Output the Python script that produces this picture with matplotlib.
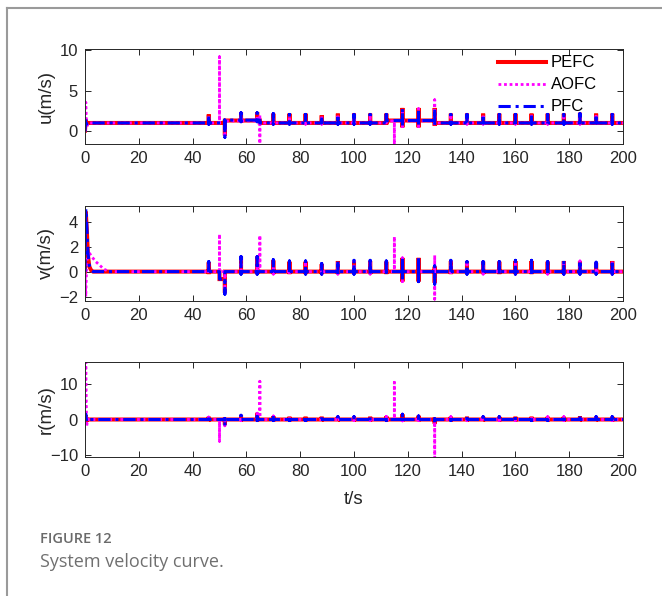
import numpy as np
import matplotlib
matplotlib.use("Agg")
import matplotlib.pyplot as plt
from matplotlib.lines import Line2D

plt.rcParams['font.family'] = ['Liberation Sans', 'DejaVu Sans']

# ---- data ----
t_end = 200
# periodic disturbance instants (s)
t_spk = [46, 52, 58, 64, 70, 76, 82, 88, 94, 100, 106, 112, 118,
         124, 130, 136, 142, 148, 154, 160, 166, 172, 178, 184, 190, 196]

# u (m/s)
u_init_t = [0, 0.3, 0.6, 1.2]
u_pfc_init = [0.0, 1.6, 0.9, 1.05]
u_pefc_init = [0.1, 1.5, 0.9, 1.05]
u_aofc_init = [0.0, 3.6, 0.5, 1.05]
u_lvl_t = [1.2, 52, 65, 112, 130]
u_pfc_lvl = [1.05, 1.4, 1.05, 1.35, 1.05]
u_pefc_lvl = [1.05, 1.35, 1.05, 1.35, 1.05]
u_aofc_lvl = [1.05, 1.3, 1.05, 1.3, 1.05]
u_pfc_hi = [2.0, 1.4, 2.3, 2.3, 2.2, 2.1, 2.1, 1.9, 2.1, 2.1, 2.1, 2.1, 2.8,
            2.8, 2.8, 2.1, 2.1, 2.1, 2.1, 2.1, 2.1, 2.1, 2.1, 2.2, 2.1, 2.1]
u_pfc_lo = [0.9, -0.7, 1.2, 1.2, 0.9, 0.9, 0.9, 0.9, 0.9, 0.9, 0.9, 0.9, 0.6,
            0.6, 0.7, 0.9, 0.9, 0.9, 0.9, 0.9, 0.9, 0.9, 0.9, 0.9, 0.9, 0.9]
u_pefc_hi = [2.1, 1.4, 2.4, 2.4, 2.2, 2.2, 2.2, 2.0, 2.2, 2.2, 2.2, 2.2, 2.9,
             2.9, 2.9, 2.2, 2.2, 2.2, 2.2, 2.2, 2.2, 2.2, 2.2, 2.3, 2.2, 2.2]
u_pefc_lo = [0.9, -0.5, 1.2, 1.2, 0.9, 0.9, 0.9, 0.9, 0.9, 0.9, 0.9, 0.9, 0.5,
             0.5, 0.7, 0.9, 0.9, 0.9, 0.9, 0.9, 0.9, 0.9, 0.9, 0.9, 0.9, 0.9]
u_aofc_t = [50, 65, 115, 130]
u_aofc_hi = [9.2, 2.0, 1.3, 3.9]
u_aofc_lo = [1.05, -1.5, -1.6, 1.05]

# v (m/s)
v_init_t = [0, 0.3, 0.7, 1.1, 1.6, 2.3, 3.0]
v_pfc_init = [0.0, 5.0, 3.5, 1.5, 0.5, 0.1, 0.0]
v_pefc_init = [0.0, 4.8, 3.2, 1.3, 0.4, 0.1, 0.0]
v_aofc_init_t = [0, 0.3, 0.6, 1.0, 1.6, 2.5, 4.0, 5.5, 7.0, 9.0]
v_aofc_init = [0.0, -2.0, 0.5, 1.6, 1.5, 1.2, 0.8, 0.5, 0.2, 0.0]
v_lvl_t = [3.0, 50, 52]
v_pfc_lvl = [0.0, -0.6, 0.0]
v_pefc_lvl = [0.0, -0.6, 0.0]
v_pfc_hi = [0.8, -0.6, 1.2, 1.2, 0.95, 0.85, 0.85, 0.65, 0.9, 0.9, 0.9, 0.85, 1.1,
            1.1, 0.45, 0.9, 0.8, 0.8, 0.8, 0.9, 0.9, 0.8, 0.9, 0.9, 0.75, 0.9]
v_pfc_lo = [-0.2, -1.8, -0.2, -0.2, -0.2, -0.2, -0.2, -0.2, -0.2, -0.2, -0.2, -0.2, -0.8,
            -0.8, -1.0, -0.2, -0.2, -0.2, -0.2, -0.2, -0.2, -0.2, -0.2, -0.2, -0.2, -0.2]
v_pefc_hi = [0.75, -0.6, 1.2, 1.2, 0.9, 0.8, 0.8, 0.6, 0.85, 0.85, 0.85, 0.8, 1.1,
             1.1, 0.4, 0.85, 0.8, 0.8, 0.8, 0.85, 0.85, 0.8, 0.85, 0.85, 0.7, 0.85]
v_pefc_lo = [-0.2, -1.7, -0.2, -0.2, -0.2, -0.2, -0.2, -0.2, -0.2, -0.2, -0.2, -0.2, -0.8,
             -0.8, -0.9, -0.2, -0.2, -0.2, -0.2, -0.2, -0.2, -0.2, -0.2, -0.2, -0.2, -0.2]
v_aofc_t = [50, 65, 115, 130]
v_aofc_hi = [3.0, 2.9, 2.8, 1.3]
v_aofc_lo = [0.0, 0.0, 0.0, -2.2]

# r
r_init_t = [0, 0.3, 0.6, 1.0]
r_pfc_init = [0.0, 1.5, -0.5, 0.0]
r_pefc_init = [0.0, 1.2, -0.4, 0.0]
r_aofc_init = [0.0, 16.3, -2.0, 0.0]
r_lvl_t = [1.0]
r_lvl = [0.0]
r_pfc_hi = [0.7, 0.3, 1.2, 1.8, 1.0, 0.7, 0.7, 0.7, 0.8, 0.8, 0.8, 0.9, 1.5,
            1.0, 0.2, 0.8, 0.8, 0.8, 0.8, 0.8, 0.8, 0.8, 0.8, 0.9, 0.8, 0.8]
r_pfc_lo = [-0.3, -1.8, -0.3, -0.3, -0.3, -0.3, -0.3, -0.3, -0.3, -0.3, -0.3, -0.3, -0.4,
            -0.3, -1.4, -0.3, -0.3, -0.3, -0.3, -0.3, -0.3, -0.3, -0.3, -0.3, -0.3, -0.3]
r_pefc_hi = [0.8, 0.3, 1.3, 1.9, 1.0, 0.8, 0.8, 0.8, 0.8, 0.8, 0.8, 1.0, 1.5,
             1.1, 0.2, 0.8, 0.8, 0.8, 0.8, 0.8, 0.8, 0.8, 0.8, 0.9, 0.8, 0.8]
r_pefc_lo = [-0.3, -1.5, -0.3, -0.3, -0.3, -0.3, -0.3, -0.3, -0.3, -0.3, -0.3, -0.3, -0.4,
             -0.3, -1.2, -0.3, -0.3, -0.3, -0.3, -0.3, -0.3, -0.3, -0.3, -0.3, -0.3, -0.3]
r_aofc_t = [50, 65, 115, 130]
r_aofc_hi = [0.0, 10.9, 10.6, 0.0]
r_aofc_lo = [-6.2, 0.0, 0.0, -11.0]


def build(init_t, init_y, lvl_t, lvl_y, ev_t, ev_hi, ev_lo):
    # polyline: initial transient, step levels, vertical spikes at events
    xs, ys = list(init_t), list(init_y)
    lvl_t = np.asarray(lvl_t, dtype=float)

    def level(t):
        return lvl_y[max(np.searchsorted(lvl_t, t, side='right') - 1, 0)]

    events = {}
    for t, h, l in zip(ev_t, ev_hi, ev_lo):
        events.setdefault(t, []).append((h, l))
    marks = sorted(set(events) | set(lvl_t[1:].tolist()))
    for m in marks:
        xs.append(m); ys.append(level(m - 1e-6))
        for h, l in events.get(m, []):
            xs += [m, m]; ys += [h, l]
        xs.append(m); ys.append(level(m))
    xs.append(t_end); ys.append(level(t_end))
    return xs, ys


panels = [
    dict(label='u(m/s)', ylim=(-1.6, 10.1), yticks=[0, 5, 10],
         pefc=build(u_init_t, u_pefc_init, u_lvl_t, u_pefc_lvl, t_spk, u_pefc_hi, u_pefc_lo),
         aofc=build(u_init_t, u_aofc_init, u_lvl_t, u_aofc_lvl,
                    t_spk + u_aofc_t, u_pfc_hi + u_aofc_hi, u_pfc_lo + u_aofc_lo),
         pfc=build(u_init_t, u_pfc_init, u_lvl_t, u_pfc_lvl, t_spk, u_pfc_hi, u_pfc_lo)),
    dict(label='v(m/s)', ylim=(-2.35, 5.25), yticks=[-2, 0, 2, 4],
         pefc=build(v_init_t, v_pefc_init, v_lvl_t, v_pefc_lvl, t_spk, v_pefc_hi, v_pefc_lo),
         aofc=build(v_aofc_init_t, v_aofc_init, [9.0], [0.0],
                    t_spk + v_aofc_t, v_pefc_hi + v_aofc_hi, v_pefc_lo + v_aofc_lo),
         pfc=build(v_init_t, v_pfc_init, v_lvl_t, v_pfc_lvl, t_spk, v_pfc_hi, v_pfc_lo)),
    dict(label='r(m/s)', ylim=(-10.7, 16.4), yticks=[-10, 0, 10],
         pefc=build(r_init_t, r_pefc_init, r_lvl_t, r_lvl, t_spk, r_pefc_hi, r_pefc_lo),
         aofc=build(r_init_t, r_aofc_init, r_lvl_t, r_lvl,
                    t_spk + r_aofc_t, r_pfc_hi + r_aofc_hi, r_pfc_lo + r_aofc_lo),
         pfc=build(r_init_t, r_pfc_init, r_lvl_t, r_lvl, t_spk, r_pfc_hi, r_pfc_lo)),
]

fig = plt.figure(figsize=(6.62, 5.96), dpi=100)
bottoms = [0.7576, 0.4950, 0.2332]
axes = []
for p, b in zip(panels, bottoms):
    ax = fig.add_axes([0.1284, b, 0.8127, 0.1594])
    l1, = ax.plot(*p['pefc'], color='#ff0000', lw=2.9, solid_joinstyle='miter')
    l2, = ax.plot(*p['aofc'], color='#ff00ff', lw=2.0, linestyle=(0, (1, 1)))
    l3, = ax.plot(*p['pfc'], color='#0000ff', lw=2.2, linestyle=(0, (4, 1.6, 1, 1.6)))
    ax.set_xlim(0, t_end)
    ax.set_ylim(*p['ylim'])
    ax.set_yticks(p['yticks'])
    ax.set_xticks(np.arange(0, 201, 20))
    ax.tick_params(direction='in', top=True, right=True, length=4, width=0.7,
                   labelsize=12, pad=5, colors='#262626')
    for s in ax.spines.values():
        s.set_linewidth(0.7)
        s.set_color('#262626')
    ax.set_ylabel(p['label'], fontsize=13.5, color='#262626')
    ax.yaxis.set_label_coords(-0.056, 0.5)
    axes.append(ax)
    if len(axes) == 1:
        handles = [l1, l2, l3]

axes[0].legend(handles, ['PEFC', 'AOFC', 'PFC'], loc='upper left',
               bbox_to_anchor=(0.764, 0.955), frameon=False, fontsize=12,
               handlelength=2.9, handletextpad=0.3, labelspacing=0.42,
               borderpad=0.1, borderaxespad=0)
axes[2].set_xlabel('t/s', fontsize=13.5, color='#262626', labelpad=9)

# page frame and caption
fig.add_artist(Line2D([0.0106, 0.0106], [0, 0.9866], color='#9a9a9a', lw=1.5))
fig.add_artist(Line2D([0.0106, 1], [0.9866, 0.9866], color='#9a9a9a', lw=1.5))
fig.text(0.0604, 1 - 539 / 596, 'FIGURE 12', fontsize=10.5, fontweight='semibold',
         color='#6a6a6a', family=['Open Sans', 'DejaVu Sans'], va='center')
fig.text(0.0604, 1 - 562 / 596, 'System velocity curve.', fontsize=13,
         color='#707070', family=['Open Sans', 'DejaVu Sans'], va='center')

fig.savefig('out.png', dpi=100)
